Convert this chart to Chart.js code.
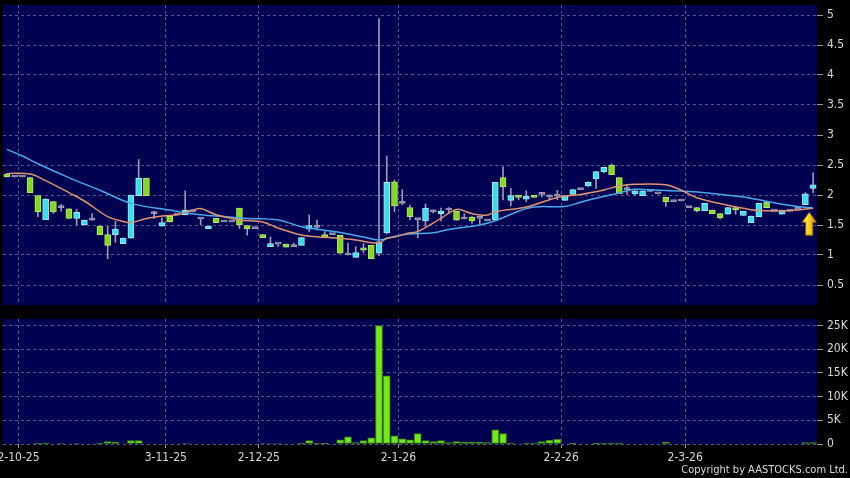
<!DOCTYPE html>
<html>
<head>
<meta charset="utf-8">
<script src="https://cdn.jsdelivr.net/npm/chart.js@4"></script>
<style>
  body { margin: 0; background: #000; width: 850px; height: 478px; overflow: hidden; position: relative; }
  #wrapPrice { position: absolute; left: 0; top: 0; width: 850px; height: 310px; }
  #wrapVol { position: absolute; left: 0; top: 310px; width: 850px; height: 168px; }
  #copy { position: absolute; right: 2px; top: 463px; color: #dcdcdc; font: 11px 'DejaVu Sans Condensed', 'Liberation Sans Narrow', 'DejaVu Sans', sans-serif; }
</style>
</head>
<body>
<div id="wrapPrice"><canvas id="priceChart"></canvas></div>
<div id="wrapVol"><canvas id="volChart"></canvas></div>
<div id="copy">Copyright by AASTOCKS.com Ltd.</div>
<script>
// daily candles
const opens = [2.35,2.30,2.30,2.29,1.99,1.59,1.89,1.79,1.77,1.61, 1.50,1.58,1.48,1.34,1.34,1.19,1.28,1.99,2.28,1.69,
  1.48,1.65,1.67,1.67,1.72,1.60,1.44,1.61,1.55,1.55, 1.78,1.49,1.44,1.34,1.14,1.18,1.18,1.14,1.16,1.43,
  1.46,1.34,1.34,1.33,1.00,0.96,1.12,1.16,1.03,1.37, 2.22,1.86,1.79,1.59,1.57,1.72,1.69,1.75,1.73,1.60,
  1.63,1.61,1.57,1.59,2.29,1.91,1.99,1.93,1.99,2.01, 1.97,1.98,1.91,2.01,2.09,2.15,2.27,2.39,2.50,2.29,
  2.09,2.02,1.99,2.06,2.02,1.96,1.89,1.90,1.79,1.79, 1.74,1.75,1.69,1.68,1.79,1.66,1.54,1.64,1.88,1.73,
  1.68,1.73,1.76,1.84,2.11]
const closes = [2.30,2.30,2.30,2.04,1.72,1.93,1.72,1.79,1.61,1.71, 1.58,1.58,1.34,1.16,1.43,1.28,2.00,2.28,1.99,1.69,
  1.54,1.55,1.67,1.75,1.72,1.60,1.48,1.54,1.55,1.55, 1.50,1.44,1.44,1.29,1.19,1.18,1.13,1.14,1.29,1.49,
  1.46,1.30,1.34,1.03,1.00,1.04,1.08,0.94,1.22,2.21, 1.82,1.86,1.64,1.59,1.78,1.72,1.73,1.75,1.58,1.60,
  1.57,1.61,1.57,2.21,2.14,1.99,1.96,1.98,1.96,2.01, 1.97,1.98,1.99,2.09,2.09,2.21,2.39,2.46,2.34,2.02,
  2.09,2.07,2.07,2.06,2.02,1.89,1.89,1.90,1.79,1.74, 1.86,1.69,1.62,1.79,1.75,1.73,1.65,1.86,1.79,1.73,
  1.75,1.73,1.76,2.02,2.17]
const highs = [2.36,2.30,2.30,2.29,1.99,1.94,1.89,1.84,1.77,1.76, 1.58,1.69,1.48,1.48,1.56,1.28,2.00,2.59,2.28,1.73,
  1.62,1.65,1.67,2.07,1.72,1.60,1.48,1.61,1.55,1.55, 1.78,1.49,1.44,1.34,1.30,1.18,1.18,1.20,1.29,1.67,
  1.58,1.39,1.34,1.33,1.20,1.14,1.19,1.16,4.94,2.65, 2.25,2.09,1.83,1.59,1.85,1.75,1.78,1.79,1.73,1.69,
  1.64,1.61,1.57,2.21,2.47,2.11,1.99,2.07,1.99,2.03, 2.00,2.08,1.99,2.09,2.09,2.22,2.39,2.46,2.52,2.29,
  2.17,2.07,2.07,2.06,2.02,1.96,1.89,1.90,1.79,1.79, 1.86,1.75,1.69,1.79,1.81,1.73,1.65,1.86,1.88,1.73,
  1.75,1.73,1.76,2.04,2.37]
const lows = [2.30,2.30,2.30,2.04,1.64,1.59,1.69,1.73,1.61,1.50, 1.50,1.58,1.34,0.94,1.21,1.19,1.28,1.99,1.99,1.61,
  1.48,1.55,1.67,1.67,1.72,1.50,1.44,1.54,1.55,1.55, 1.44,1.33,1.44,1.29,1.14,1.14,1.13,1.14,1.16,1.39,
  1.42,1.30,1.34,1.03,1.00,0.96,1.04,0.94,0.99,1.35, 1.72,1.84,1.59,1.29,1.48,1.70,1.57,1.69,1.58,1.60,
  1.53,1.50,1.57,1.59,1.92,1.82,1.92,1.89,1.96,1.97, 1.94,1.92,1.91,2.01,2.09,2.14,2.11,2.37,2.34,2.02,
  2.01,2.00,1.99,2.06,2.02,1.81,1.89,1.90,1.79,1.72, 1.74,1.69,1.60,1.68,1.68,1.66,1.54,1.64,1.79,1.73,
  1.68,1.73,1.76,1.84,2.04]
const volumes = [0,0,0,0,200,200,0,100,0,100, 0,0,200,500,400,0,700,700,0,0,
  0,0,0,100,0,0,0,0,0,0, 0,0,0,100,100,100,0,0,200,700,
  200,150,0,900,1500,300,700,1300,25000,14400, 1700,1100,900,2200,700,500,700,300,500,400,
  400,400,300,3000,2200,200,0,200,200,500, 800,1000,0,150,0,0,150,200,200,200,
  0,0,0,0,0,350,0,0,0,0, 0,0,0,0,0,0,0,0,0,0,
  0,0,0,300,300]

// moving averages, read at some candles
const ma10Idx = [0,3,5,8,10,13,15,16,18,20,22,24,25,27,30,33,35,38,40,43,45,48,49,50,52,53,56,58,60,62,63,67,71,74,77,79,81,85,87,89,93,95,97,100,102,104]
const ma10 = [2.36,2.35,2.24,2.04,1.90,1.64,1.56,1.54,1.61,1.65,1.67,1.75,1.775,1.67,1.585,1.55,1.45,1.335,1.305,1.278,1.25,1.20,1.28,1.30,1.37,1.39,1.61,1.76,1.69,1.665,1.72,1.80,1.96,2.01,2.085,2.15,2.178,2.17,2.08,1.955,1.83,1.78,1.74,1.733,1.75,1.78]
const ma20Idx = [0,2,4,8,12,16,21,25,28,31,35,38,40,43,46,48,50,52,55,57,61,63,66,68,72,74,76,79,81,84,87,91,95,97,100,102,104]
const ma20 = [2.76,2.65,2.52,2.29,2.08,1.86,1.75,1.67,1.64,1.61,1.585,1.47,1.43,1.375,1.30,1.25,1.31,1.35,1.37,1.425,1.50,1.57,1.73,1.80,1.81,1.88,1.945,2.035,2.094,2.08,2.065,2.025,1.965,1.92,1.845,1.81,1.78]

// date labels and the candle they start at
const dateLabels = ['2-10-25', '3-11-25', '2-12-25', '2-1-26', '2-2-26', '2-3-26']
const dateIdx = [2, 21, 33, 51, 72, 88]
const priceTicks = [0.5, 1, 1.5, 2, 2.5, 3, 3.5, 4, 4.5, 5]
const volTicks = [0, 5000, 10000, 15000, 20000, 25000]

const font = "'DejaVu Sans Condensed', 'Liberation Sans Narrow', 'DejaVu Sans', sans-serif"
Chart.defaults.font.family = font
Chart.defaults.font.size = 12
Chart.defaults.color = '#d8d8d8'

const gridColor = '#54548e'
const n = opens.length
const idx = opens.map((_, i) => i)

const upFill = '#3ddcec', upEdge = '#9eeef6'
const downFill = '#84d822', downEdge = '#b4ea6a'
const flat = '#9a9ab2'
const fillOf = i => closes[i] > opens[i] ? upFill : closes[i] < opens[i] ? downFill : flat
const edgeOf = i => closes[i] > opens[i] ? upEdge : closes[i] < opens[i] ? downEdge : flat

const bgPlugin = {
  id: 'navy',
  beforeDraw(chart) {
    const { ctx, chartArea: { left, top, width, height } } = chart
    ctx.save()
    ctx.fillStyle = '#000050'
    ctx.fillRect(left, top, width, height)
    ctx.restore()
  }
}

// yellow marker under the last candle
const arrowPlugin = {
  id: 'arrow',
  afterDatasetsDraw(chart) {
    const { ctx, scales: { x, y } } = chart
    const cx = x.getPixelForValue(n - 1.5)
    const tip = y.getPixelForValue(ma20[ma20.length - 1]) + 4
    const g = ctx.createLinearGradient(cx - 7, 0, cx + 7, 0)
    g.addColorStop(0, '#fff27a')
    g.addColorStop(0.5, '#ffd21a')
    g.addColorStop(1, '#d88a00')
    ctx.save()
    ctx.beginPath()
    ctx.moveTo(cx, tip)
    ctx.lineTo(cx + 7, tip + 10)
    ctx.lineTo(cx + 3.5, tip + 10)
    ctx.lineTo(cx + 3.5, tip + 23)
    ctx.lineTo(cx - 3.5, tip + 23)
    ctx.lineTo(cx - 3.5, tip + 10)
    ctx.lineTo(cx - 7, tip + 10)
    ctx.closePath()
    ctx.fillStyle = g
    ctx.fill()
    ctx.strokeStyle = '#a06a00'
    ctx.lineWidth = 1
    ctx.stroke()
    ctx.restore()
  }
}

const dateTicks = s => { s.ticks = dateIdx.map(i => ({ value: i - 0.5 })) }
const noPad = s => { s.paddingLeft = 0; s.paddingRight = 0; s.paddingTop = 0; s.paddingBottom = 0 }

new Chart(document.querySelector('#priceChart'), {
  data: {
    datasets: [
      { type: 'line', label: 'MA10', data: ma10Idx.map((x, k) => ({ x, y: ma10[k] })), borderColor: '#de9470', borderWidth: 1.5, pointRadius: 0, tension: 0.35, order: 0 },
      { type: 'line', label: 'MA20', data: ma20Idx.map((x, k) => ({ x, y: ma20[k] })), borderColor: '#4aa8ec', borderWidth: 1.5, pointRadius: 0, tension: 0.35, order: 0 },
      {
        type: 'bar', label: 'body', data: idx.map(i => ({ x: i, y: [opens[i], closes[i]] })),
        backgroundColor: c => fillOf(c.dataIndex), borderColor: c => edgeOf(c.dataIndex),
        borderWidth: 1, borderSkipped: false, barThickness: 6, minBarLength: 2, grouped: false, order: 1
      },
      {
        type: 'bar', label: 'wick', data: idx.map(i => ({ x: i, y: [lows[i], highs[i]] })),
        backgroundColor: '#9a9ab2', barThickness: 1, grouped: false, order: 2
      }
    ]
  },
  options: {
    responsive: true, maintainAspectRatio: false, animation: false,
    layout: { padding: { left: 3, top: 5, right: 0, bottom: 5 } },
    plugins: { legend: { display: false }, tooltip: { enabled: false } },
    scales: {
      x: {
        type: 'linear', min: -0.5, max: n - 0.5, offset: false,
        afterBuildTicks: dateTicks,
        ticks: { display: false },
        grid: { offset: false, color: gridColor, drawTicks: false },
        border: { display: false, dash: [3, 3] },
        afterFit: s => { noPad(s); s.height = 0 }
      },
      y: {
        position: 'right', min: 1 / 6, max: 31 / 6,
        afterBuildTicks: s => { s.ticks = priceTicks.map(value => ({ value })) },
        ticks: { padding: 4, callback: v => String(v) },
        grid: { color: gridColor, tickColor: '#9a9a9a', tickLength: 6, tickBorderDash: [] },
        border: { display: false, dash: [3, 3] },
        afterFit: s => { noPad(s); s.width = 33 }
      }
    }
  },
  plugins: [bgPlugin, arrowPlugin]
})

new Chart(document.querySelector('#volChart'), {
  type: 'bar',
  data: {
    datasets: [{
      label: 'Volume', data: idx.map(i => ({ x: i, y: volumes[i] })),
      backgroundColor: '#74e61c', borderColor: '#3c8a06', borderWidth: 1, borderSkipped: false,
      barThickness: 7, grouped: false
    }]
  },
  options: {
    responsive: true, maintainAspectRatio: false, animation: false,
    layout: { padding: { left: 3, top: 9, right: 0, bottom: 0 } },
    plugins: { legend: { display: false }, tooltip: { enabled: false } },
    scales: {
      x: {
        type: 'linear', min: -0.5, max: n - 0.5, offset: false,
        afterBuildTicks: dateTicks,
        ticks: { padding: 3, maxRotation: 0, autoSkip: false, callback: (v, k) => dateLabels[k] },
        grid: { offset: false, color: gridColor, tickColor: '#9a9a9a', tickLength: 4, tickBorderDash: [] },
        border: { display: false, dash: [3, 3] },
        afterFit: s => { noPad(s); s.height = 34 }
      },
      y: {
        position: 'right', min: 0, max: 26400,
        afterBuildTicks: s => { s.ticks = volTicks.map(value => ({ value })) },
        ticks: { padding: 4, callback: v => v === 0 ? '0' : v / 1000 + 'K' },
        grid: { color: gridColor, tickColor: '#9a9a9a', tickLength: 6, tickBorderDash: [] },
        border: { display: false, dash: [3, 3] },
        afterFit: s => { noPad(s); s.width = 33 }
      }
    }
  },
  plugins: [bgPlugin]
})
</script>
</body>
</html>
